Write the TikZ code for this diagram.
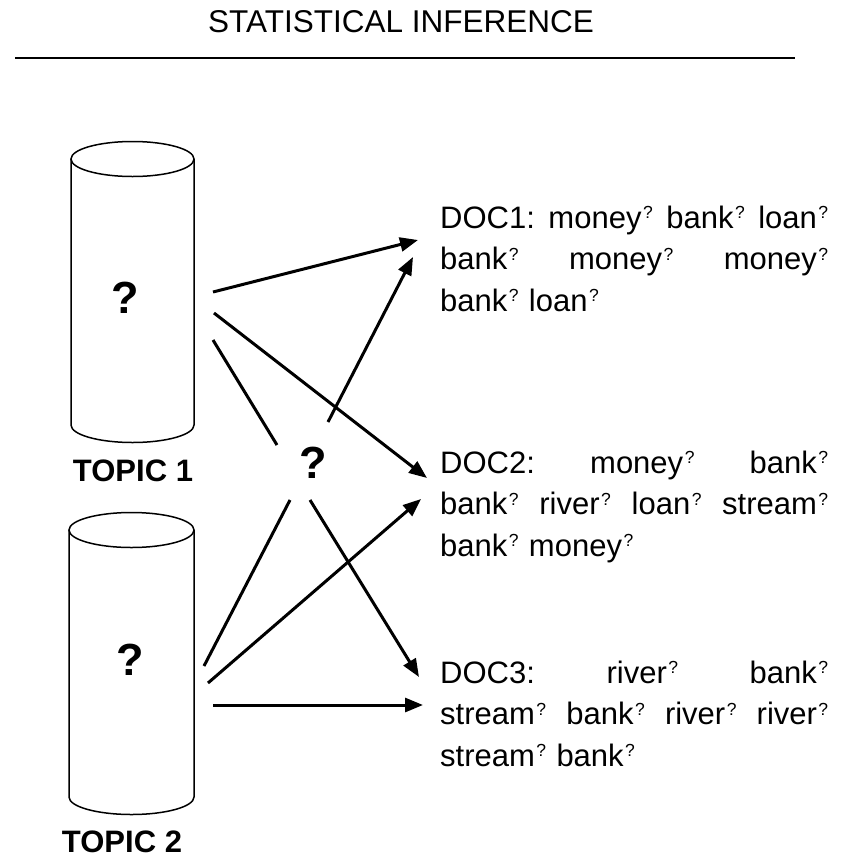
\documentclass[tikz,border=0pt]{standalone}
\usepackage{fontspec}
\setmainfont{Liberation Sans}
\usetikzlibrary{arrows.meta}

% small raised question mark after each word
\newcommand\qsup{\kern1.5pt\raisebox{9.5pt}{\fontsize{17.5}{17.5}\selectfont ?}}
% stretchable word gap and one fully justified line of a document block
\newcommand\wgap{\hskip 0.22em plus 1fil\relax}
\newcommand\jline[1]{\leavevmode\hbox to 388pt{#1}}

\tikzset{
  cyl/.style={line width=1.5pt},
  link/.style={line width=3pt},
  arr/.style={link, -{Triangle[length=18pt,width=14pt]}},
  doc/.style={text width=388pt, align=left, inner sep=0pt,
              font=\fontsize{31}{41.5}\selectfont},
  topic/.style={inner sep=0pt, font=\fontsize{31}{32}\selectfont\bfseries},
  qmark/.style={inner sep=0pt, font=\fontsize{45}{45}\selectfont\bfseries},
}

\begin{document}
\begin{tikzpicture}[x=1pt,y=1pt]
\useasboundingbox (0,0) rectangle (844,-857);

% heading and rule
\node[inner sep=0pt, anchor=base, font=\fontsize{31.5}{32}\selectfont] (title) at (401,-32) {STATISTICAL INFERENCE};
\coordinate (ruleL) at (15,-58);
\coordinate (ruleR) at (795,-58);
\draw[line width=1.6pt] (ruleL) -- (ruleR);

% topic cylinders
\draw[cyl] (132.5,-159) ellipse [x radius=61.5, y radius=17.5];
\draw[cyl] (71,-159) -- (71,-425) arc[start angle=180, end angle=360, x radius=61.5, y radius=17.5] -- (194,-159);
\draw[cyl] (131.5,-530) ellipse [x radius=62.5, y radius=17.5];
\draw[cyl] (69,-530) -- (69,-797) arc[start angle=180, end angle=360, x radius=62.5, y radius=17.5] -- (194,-530);

\node[qmark, anchor=base] (q1) at (125,-313) {?};
\node[qmark, anchor=base] (q2) at (130,-675) {?};
\node[qmark, anchor=base] (qm) at (313,-478) {?};

\node[topic, anchor=base] (topic1) at (133,-481) {TOPIC 1};
\node[topic, anchor=base] (topic2) at (122,-852) {TOPIC 2};

% documents
\node[doc, anchor=base west] (doc1) at (440,-228)
  {\jline{DOC1:\wgap money\qsup\wgap bank\qsup\wgap loan\qsup}\\
   \jline{bank\qsup\wgap money\qsup\wgap money\qsup}\\
   bank\qsup{} loan\qsup};
\node[doc, anchor=base west] (doc2) at (440,-473)
  {\jline{DOC2:\wgap money\qsup\wgap bank\qsup}\\
   \jline{bank\qsup\wgap river\qsup\wgap loan\qsup\wgap stream\qsup}\\
   bank\qsup{} money\qsup};
\node[doc, anchor=base west] (doc3) at (440,-683)
  {\jline{DOC3:\wgap river\qsup\wgap bank\qsup}\\
   \jline{stream\qsup\wgap bank\qsup\wgap river\qsup\wgap river\qsup}\\
   stream\qsup{} bank\qsup};

% connector end points
\coordinate (t1a) at (213,-292);
\coordinate (t1b) at (214,-313);
\coordinate (t1c) at (213,-340);
\coordinate (t2a) at (204,-666);
\coordinate (t2b) at (208,-683);
\coordinate (t2c) at (213,-705);
\coordinate (qa) at (277,-445);
\coordinate (qb) at (328,-422);
\coordinate (qc) at (290,-500);
\coordinate (qd) at (310,-500);
\coordinate (d1a) at (418,-240);
\coordinate (d1b) at (413,-257);
\coordinate (d2a) at (427,-478);
\coordinate (d2b) at (421,-499);
\coordinate (d3a) at (419,-677);
\coordinate (d3b) at (423,-705);

% connectors
\draw[arr] (t1a) -- (d1a);
\draw[arr] (t1b) -- (d2a);
\draw[link] (t1c) -- (qa);
\draw[arr] (qb) -- (d1b);
\draw[link] (qc) -- (t2a);
\draw[arr] (qd) -- (d3a);
\draw[arr] (t2b) -- (d2b);
\draw[arr] (t2c) -- (d3b);
\end{tikzpicture}
\end{document}
